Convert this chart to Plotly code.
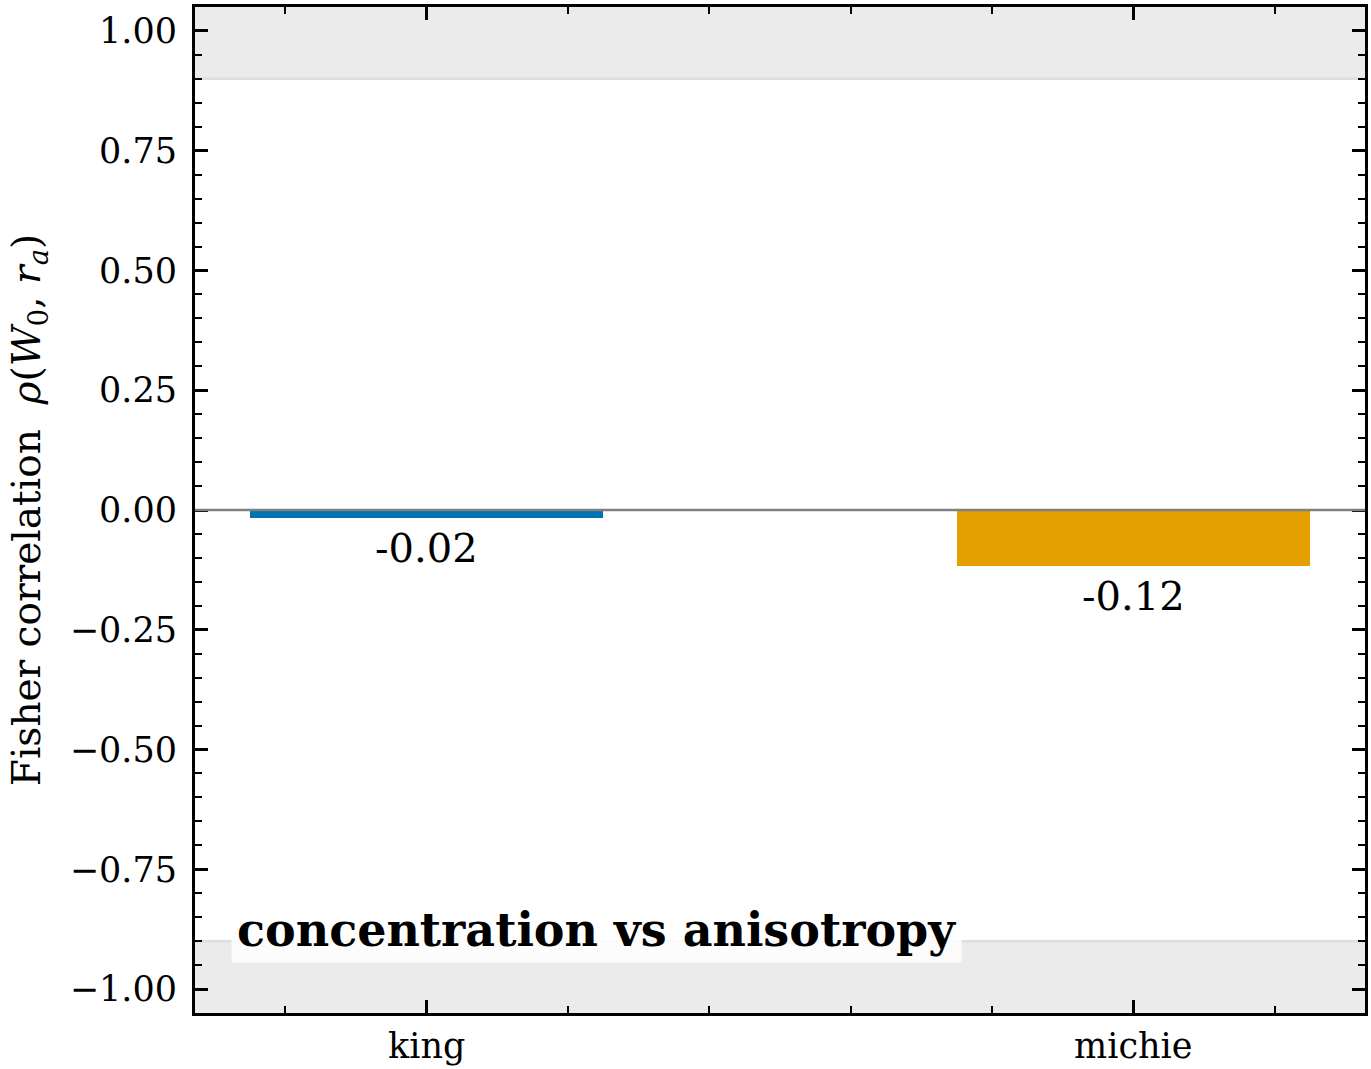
import plotly.graph_objects as go

models = ["king", "michie"]
rho = [-0.016, -0.116]
colors = ["#0072B2", "#E69F00"]
label = "concentration vs anisotropy"

FONT = "DejaVu Serif"
xpos = list(range(len(models)))
XR = [-0.328, 1.328]
YR = [-1.05, 1.05]

fig = go.Figure()

fig.add_trace(go.Bar(
    x=xpos, y=rho, width=0.5,
    marker=dict(color=colors, line=dict(width=0)),
    showlegend=False, hoverinfo="skip",
))
# empty trace so the mirrored (top/right) axes get drawn
fig.add_trace(go.Scatter(x=[], y=[], xaxis="x2", yaxis="y2", showlegend=False))

# value labels under each bar
for xi, v in zip(xpos, rho):
    fig.add_annotation(x=xi, y=v, text=f"{v:.2f}", showarrow=False,
                       yanchor="top", yshift=-5,
                       font=dict(family=FONT, size=40, color="black"))

# shaded bands |rho| > 0.9
band = dict(type="rect", xref="paper", x0=0, x1=1, fillcolor="#ebebeb",
            line=dict(width=0), layer="below")
fig.add_shape(**band, y0=0.9, y1=1.05)
fig.add_shape(**band, y0=-1.05, y1=-0.9)
for yv in (0.9, -0.9):
    fig.add_shape(type="line", xref="paper", x0=0, x1=1, y0=yv, y1=yv,
                  line=dict(color="#dedede", width=2.5), layer="below")

# zero line
fig.add_shape(type="line", xref="paper", x0=0, x1=1, y0=0, y1=0,
              line=dict(color="#808080", width=2.5), layer="above")

fig.add_annotation(xref="paper", yref="paper", x=0.031, y=0.083,
                   text=f"<b>{label}</b>", showarrow=False,
                   xanchor="left", yanchor="middle",
                   bgcolor="rgba(255,255,255,0.85)", borderpad=5,
                   font=dict(family=FONT, size=46, color="black"))

fig.update_layout(
    width=1371, height=1069,
    margin=dict(l=195, r=6, t=7, b=56),
    plot_bgcolor="white", paper_bgcolor="white",
    font=dict(family=FONT, size=35, color="black"),
    bargap=0,
)

tick_style = dict(
    showgrid=False, zeroline=False, automargin=False,
    ticks="inside", ticklen=13, tickwidth=2.5, tickcolor="black",
)

fig.update_layout(
    xaxis=dict(
        range=XR, tickvals=xpos, ticktext=models,
        showline=True, linecolor="black", linewidth=3, mirror=True,
        minor=dict(ticks="inside", ticklen=7, tickwidth=2, tickcolor="black",
                   dtick=0.2, tick0=0, showgrid=False),
        tickfont=dict(family=FONT, size=35), ticklabelstandoff=0,
        **tick_style,
    ),
    xaxis2=dict(
        range=XR, overlaying="x", side="top", anchor="y",
        tickvals=xpos, showticklabels=False, showline=False,
        minor=dict(ticks="inside", ticklen=7, tickwidth=2, tickcolor="black",
                   dtick=0.2, tick0=0, showgrid=False),
        **tick_style,
    ),
    yaxis=dict(
        range=YR, dtick=0.25, tick0=0, tickformat=".2f",
        showline=True, linecolor="black", linewidth=3, mirror=True,
        minor=dict(ticks="inside", ticklen=7, tickwidth=2, tickcolor="black",
                   dtick=0.05, showgrid=False),
        tickfont=dict(family=FONT, size=35), ticklabelstandoff=8,
        title=dict(text="Fisher correlation  <i>ρ</i>(<i>W</i><sub>0</sub>, <i>r<sub>a</sub></i>)",
                   font=dict(family=FONT, size=39), standoff=18),
        **tick_style,
    ),
    yaxis2=dict(
        range=YR, overlaying="y", side="right", anchor="x",
        dtick=0.25, tick0=0, showticklabels=False, showline=False,
        minor=dict(ticks="inside", ticklen=7, tickwidth=2, tickcolor="black",
                   dtick=0.05, showgrid=False),
        **tick_style,
    ),
)

fig.write_html(
    "out.html",
    config={"displayModeBar": False},
    post_script="document.body.style.margin='0';"
                "document.body.style.overflow='hidden';"
                "document.documentElement.style.overflow='hidden';",
)
